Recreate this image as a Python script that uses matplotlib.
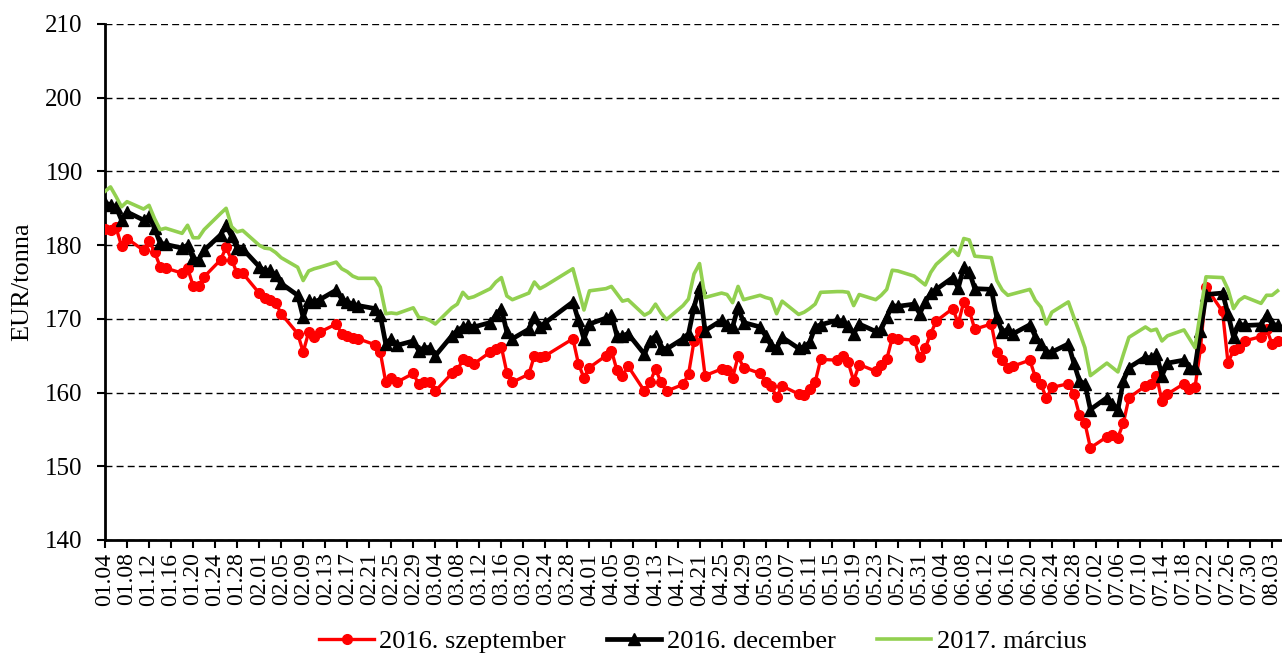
import matplotlib
matplotlib.use("Agg")
import matplotlib.pyplot as plt
import numpy as np
import pandas as pd

# Police proche de Times New Roman
plt.rcParams["font.family"] = ["Liberation Serif", "DejaVu Serif"]

# Jours de cotation 2016 (vendredi saint et lundi de Pâques exclus)
jours = pd.bdate_range("2016-01-04", "2016-08-04")
jours = jours[~jours.isin(pd.to_datetime(["2016-03-25", "2016-03-28"]))]

# 2016. szeptember (rouge)
szeptember = [
    # janvier
    182.2, 182.0, 182.4, 179.9, 180.9, 179.3, 180.6, 179.1, 177.1, 176.9,
    176.2, 176.9, 174.5, 174.5, 175.7, 178.0, 179.7, 178.0, 176.2, 176.2,
    # février
    173.5, 172.8, 172.5, 172.2, 170.7, 168.0, 165.5, 168.2, 167.5, 168.2,
    169.3, 168.0, 167.7, 167.4, 167.3, 166.5, 165.5, 161.4, 162.0, 161.4, 162.6,
    # mars
    161.1, 161.4, 161.4, 160.2, 162.6, 163.0, 164.5, 164.3, 163.9, 165.5,
    165.9, 166.2, 162.7, 161.4, 162.5, 165.0, 164.8, 165.0, 167.3, 163.9, 162.0,
    # avril
    163.4, 165.0, 165.7, 163.0, 162.3, 163.6, 160.2, 161.4, 163.2, 161.4,
    160.2, 161.1, 162.5, 167.0, 168.4, 162.3, 163.2, 163.0, 162.0, 164.9, 163.4,
    # mai
    162.6, 161.4, 160.9, 159.4, 160.9, 159.8, 159.7, 160.5, 161.4, 164.5,
    164.4, 165.0, 164.1, 161.6, 163.8, 162.9, 163.8, 164.5, 167.4, 167.3, 167.1, 164.8,
    # juin
    166.0, 168.0, 169.7, 171.4, 169.4, 172.3, 171.1, 168.6, 169.3, 165.5,
    164.4, 163.4, 163.6, 164.4, 162.1, 161.2, 159.2, 160.7, 161.2, 159.8, 157.0, 155.9,
    # juillet
    152.5, 154.0, 154.3, 153.9, 155.9, 159.3, 160.9, 161.2, 162.3, 158.8,
    159.8, 161.2, 160.5, 160.7, 166.0, 174.3, 171.0, 164.0, 165.8, 166.0, 167.0,
    # août
    167.6, 168.6, 166.6, 167.0,
]

# 2016. december (noir)
december = [
    185.7, 185.5, 185.2, 183.4, 184.5, 183.4, 183.9, 182.3, 180.3, 180.1,
    179.6, 180.0, 178.2, 178.0, 179.3, 181.4, 182.7, 181.2, 179.6, 179.5,
    177.1, 176.5, 176.6, 175.9, 174.8, 173.2, 170.2, 172.5, 172.3, 172.6,
    173.9, 172.7, 172.3, 172.0, 171.8, 171.4, 170.5, 166.6, 167.3, 166.4, 167.0,
    165.7, 166.1, 166.1, 165.0, 167.7, 168.4, 168.9, 169.1, 168.9, 169.5,
    170.5, 171.4, 168.2, 167.3, 168.6, 170.2, 168.9, 169.5, 172.3, 169.8, 167.3,
    169.3, 170.1, 170.5, 167.7, 167.7, 168.0, 165.2, 167.0, 167.7, 166.1,
    165.9, 167.3, 168.0, 171.6, 174.3, 168.4, 169.8, 169.1, 168.9, 171.6, 169.5,
    168.9, 167.7, 166.4, 166.1, 167.5, 166.0, 166.2, 166.8, 168.9, 169.2,
    169.8, 169.7, 169.0, 168.0, 169.3, 168.3, 168.6, 170.2, 171.8, 171.7, 172.0, 170.7,
    172.3, 173.5, 174.0, 175.6, 174.2, 177.0, 176.4, 174.1, 174.0, 170.2,
    168.2, 168.6, 168.0, 169.2, 167.6, 166.6, 165.5, 165.5, 166.6, 164.0, 161.6, 161.2,
    157.7, 159.3, 158.5, 157.7, 161.6, 163.4, 164.8, 164.7, 165.2, 162.3,
    164.0, 164.4, 163.3, 163.4, 168.4, 173.3, 173.5, 170.7, 167.5, 169.3, 169.1,
    169.2, 170.5, 169.3, 169.1,
]

# 2017. március (vert)
marcius = [
    187.3, 187.9, 186.6, 185.2, 185.9, 184.9, 185.4, 183.6, 182.1, 182.3,
    181.6, 182.7, 181.0, 181.0, 182.1, 184.3, 185.0, 182.5, 181.8, 182.0,
    180.0, 179.6, 179.5, 179.0, 178.3, 177.0, 175.2, 176.5, 176.8, 177.0,
    177.7, 176.8, 176.4, 175.8, 175.5, 175.5, 174.3, 170.7, 170.8, 170.7, 171.5,
    170.2, 170.1, 169.8, 169.3, 171.5, 172.0, 173.6, 172.8, 173.0, 174.1,
    175.0, 175.6, 173.1, 172.6, 173.5, 175.0, 174.1, 174.5, 176.8, 174.0, 171.2,
    173.8, 174.1, 174.4, 173.4, 172.4, 172.6, 170.5, 170.9, 172.0, 170.8,
    169.9, 171.8, 172.7, 176.1, 177.5, 172.9, 173.5, 173.3, 172.2, 174.4, 172.6,
    173.2, 172.9, 172.7, 170.7, 172.4, 170.6, 170.9, 171.4, 172.0, 173.6,
    173.7, 173.7, 173.6, 171.8, 173.3, 172.6, 173.2, 174.0, 176.6, 176.5, 175.8, 175.2,
    174.6, 176.3, 177.4, 179.4, 178.6, 180.9, 180.7, 178.5, 178.3, 175.2,
    173.9, 173.2, 173.4, 174.0, 172.5, 171.6, 169.3, 170.9, 172.3, 170.2, 168.2, 166.1,
    162.3, 164.0, 163.4, 162.8, 165.2, 167.5, 168.9, 168.4, 168.6, 167.0,
    167.7, 168.5, 167.3, 166.1, 171.0, 175.7, 175.6, 174.0, 171.4, 172.5, 173.0,
    172.1, 173.2, 173.2, 173.8,
]

assert len(jours) == len(szeptember) == len(december) == len(marcius)

# Position en jours depuis le 4 janvier
x = np.asarray((jours - jours[0]).days)

fig = plt.figure(figsize=(12.82, 6.57), dpi=100)
ax = fig.add_axes([105 / 1282, 117 / 657, 1177 / 1282, 516 / 657])

ax.plot(x, szeptember, color="#FF0000", lw=2.4, marker="o", ms=7,
        label="2016. szeptember", zorder=3)
ax.plot(x, december, color="black", lw=3.4, marker="^", ms=8.5,
        label="2016. december", zorder=4)
ax.plot(x, marcius, color="#92D050", lw=2.6, label="2017. március", zorder=5)

# Axe des ordonnées
ax.set_ylim(140, 210)
ax.set_yticks(np.arange(140, 211, 10))
ax.yaxis.grid(True, linestyle=(0, (5, 3)), color="black", linewidth=1.0)
ax.set_axisbelow(True)

# Axe des abscisses : une graduation tous les 4 jours
ticks = np.arange(0, 214, 4)
labels = [(jours[0] + pd.Timedelta(days=int(t))).strftime("%m.%d") for t in ticks]
ax.set_xticks(ticks)
ax.set_xticklabels(labels, rotation=90)
ax.set_xlim(0, 1177 / 5.505)

for side in ["top", "right"]:
    ax.spines[side].set_visible(False)
for side in ["left", "bottom"]:
    ax.spines[side].set_linewidth(2.0)
ax.tick_params(axis="both", length=6, width=1.5, direction="out")
ax.tick_params(axis="x", labelsize=17, pad=3)
ax.tick_params(axis="y", labelsize=18, pad=10)

fig.text(22 / 1282, 1 - 282 / 657, "EUR/tonna", rotation=90,
         ha="center", va="center", fontsize=19)

fig.legend(loc="center", bbox_to_anchor=(703 / 1282, 1 - 641 / 657), ncol=3,
           frameon=False, fontsize=19, handlelength=2.05, handletextpad=0.22,
           columnspacing=1.55)

fig.savefig("out.png", dpi=100)
